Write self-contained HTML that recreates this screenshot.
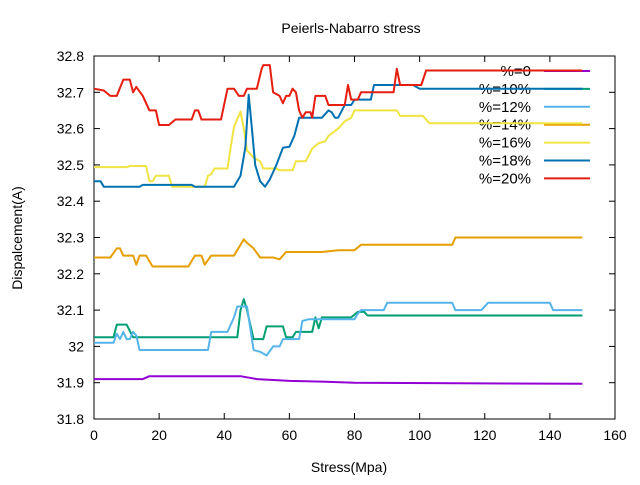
<!DOCTYPE html>
<html><head><meta charset="utf-8"><style>
body{margin:0;background:#fff;}
svg text{font-family:"Liberation Sans",sans-serif;fill:#000;}
</style></head><body>
<svg id="chart" width="640" height="480">
<rect width="640" height="480" fill="#fff"/>
<text x="351" y="33" font-size="14" text-anchor="middle">Peierls-Nabarro stress</text>
<text x="349" y="472" font-size="14" text-anchor="middle">Stress(Mpa)</text>
<text x="22" y="238" font-size="14" text-anchor="middle" transform="rotate(-90 22 238)">Dispalcement(A)</text>
<g id="axes"></g>
<g id="series"></g>
<g id="legend"></g>
</svg>
<script>
const xTicks=[0,20,40,60,80,100,120,140,160];
const yTicks=[31.8,31.9,32,32.1,32.2,32.3,32.4,32.5,32.6,32.7,32.8];
const yTickLabels=["31.8","31.9","32","32.1","32.2","32.3","32.4","32.5","32.6","32.7","32.8"];
const seriesNames=["%=0","%=10%","%=12%","%=14%","%=16%","%=18%","%=20%"];
const seriesColors=["#9400d3","#009e73","#56b4e9","#e69f00","#f0e442","#0072b2","#e51e10"];
const s0=[[0,31.91],[15,31.91],[17,31.918],[45,31.918],[50,31.91],[60,31.905],[70,31.903],[80,31.9],[150,31.897]];
const s10=[[0,32.025],[6,32.025],[7,32.06],[10,32.06],[12,32.025],[44,32.025],[45,32.1],[46,32.13],[47,32.1],[48,32.06],[49,32.02],[52,32.02],[53,32.055],[58,32.055],[59,32.025],[61,32.025],[62,32.04],[67,32.04],[68,32.08],[69,32.05],[70,32.08],[79,32.08],[81,32.095],[83,32.095],[84,32.085],[150,32.085]];
const s12=[[0,32.01],[6,32.01],[7,32.035],[8,32.02],[9,32.04],[10,32.02],[11,32.02],[12,32.04],[13,32.03],[14,31.99],[35,31.99],[36,32.04],[41,32.04],[43,32.08],[44,32.11],[47,32.11],[48,32.05],[49,31.99],[51,31.985],[53,31.975],[55,32.0],[57,32.0],[58,32.02],[63,32.02],[64,32.07],[66,32.075],[80,32.075],[81,32.09],[82,32.1],[89,32.1],[90,32.12],[110,32.12],[111,32.1],[119,32.1],[121,32.12],[140,32.12],[141,32.1],[150,32.1]];
const s14=[[0,32.245],[5,32.245],[7,32.27],[8,32.27],[9,32.25],[12,32.25],[13,32.225],[14,32.25],[16,32.25],[18,32.22],[29,32.22],[31,32.25],[33,32.25],[34,32.225],[36,32.25],[43,32.25],[46,32.295],[47,32.285],[49,32.27],[51,32.245],[55,32.245],[57,32.24],[59,32.26],[70,32.26],[75,32.265],[80,32.265],[82,32.28],[110,32.28],[111,32.3],[150,32.3]];
const s16=[[0,32.494],[10,32.494],[11,32.497],[16,32.497],[17,32.455],[18,32.455],[19,32.47],[23,32.47],[24,32.44],[34,32.44],[35,32.47],[36,32.475],[37,32.49],[41,32.49],[42,32.55],[43,32.605],[45,32.647],[46,32.6],[47,32.54],[49,32.52],[51,32.51],[52,32.49],[56,32.49],[57,32.485],[61,32.485],[62,32.51],[65,32.51],[67,32.545],[69,32.56],[71,32.565],[72,32.58],[75,32.6],[77,32.62],[79,32.63],[80,32.65],[93,32.65],[94,32.635],[101,32.635],[103,32.615],[150,32.615]];
const s18=[[0,32.455],[2,32.455],[3,32.44],[14,32.44],[15,32.445],[30,32.445],[31,32.44],[43,32.44],[45,32.47],[46.5,32.55],[47.5,32.693],[48.5,32.6],[49.5,32.5],[51,32.455],[52.5,32.44],[54,32.46],[56,32.5],[58,32.547],[60,32.55],[61.5,32.58],[63,32.63],[70,32.63],[72,32.65],[73,32.645],[74,32.63],[75,32.63],[77,32.665],[79,32.665],[80,32.68],[85,32.68],[86,32.72],[98,32.72],[100,32.71],[150,32.71]];
const s20=[[0,32.71],[3,32.705],[5,32.69],[7,32.69],[9,32.735],[11,32.735],[12,32.7],[13,32.715],[15,32.69],[17,32.65],[19,32.65],[20,32.61],[23,32.61],[25,32.625],[30,32.625],[31,32.65],[32,32.65],[33,32.625],[39,32.625],[41,32.71],[43,32.71],[44.5,32.69],[46,32.69],[47,32.71],[50,32.71],[51.5,32.765],[52,32.775],[54,32.775],[55,32.7],[57,32.69],[58,32.67],[59,32.69],[60,32.69],[61,32.71],[62,32.7],[63,32.65],[64,32.63],[65,32.645],[66.5,32.645],[67,32.63],[68,32.69],[71,32.69],[72,32.665],[77,32.665],[78,32.72],[79,32.68],[81,32.68],[82,32.7],[92,32.7],[93,32.765],[94,32.72],[100.5,32.72],[102,32.76],[150,32.76]];
const allSeries=[s0,s10,s12,s14,s16,s18,s20];

const X0=94,X1=615,Y0=419,Y1=56,xmin=0,xmax=160,ymin=31.8,ymax=32.8;
const sx=v=>X0+(v-xmin)/(xmax-xmin)*(X1-X0);
const sy=v=>Y0-(v-ymin)/(ymax-ymin)*(Y0-Y1);
const NS="http://www.w3.org/2000/svg";
function mk(tag,attrs,parent){const e=document.createElementNS(NS,tag);for(const k in attrs)e.setAttribute(k,attrs[k]);parent.appendChild(e);return e;}
const axes=document.getElementById('axes');
const frame=mk('rect',{x:X0,y:Y1,width:X1-X0,height:Y0-Y1,fill:'none',stroke:'#000','stroke-width':1},axes);


xTicks.forEach(t=>{
 const x=sx(t);
 const a=mk('line',{x1:x,x2:x,y1:Y0,y2:Y0-6,stroke:'#000'},axes);
 
 
 const b=mk('line',{x1:x,x2:x,y1:Y1,y2:Y1+6,stroke:'#000'},axes);
 
 
 const l=mk('text',{x:x,y:Y0+21,'font-size':14,'text-anchor':'middle'},axes);
 l.textContent=String(t);
 
 
});
yTicks.forEach((t,i)=>{
 const y=sy(t);
 const a=mk('line',{x1:X0,x2:X0+6,y1:y,y2:y,stroke:'#000'},axes);
 
 
 const b=mk('line',{x1:X1,x2:X1-6,y1:y,y2:y,stroke:'#000'},axes);
 
 
 const l=mk('text',{x:X0-10,y:y+5,'font-size':14,'text-anchor':'end'},axes);
 l.textContent=yTickLabels[i];
 
 
});
const sg=document.getElementById('series');
allSeries.forEach((d,i)=>{
 const p=mk('polyline',{points:d.map(q=>sx(q[0]).toFixed(1)+','+sy(q[1]).toFixed(1)).join(' '),fill:'none',stroke:seriesColors[i],'stroke-width':2,'stroke-linejoin':'round'},sg);
 
 
});
const lg=document.getElementById('legend');
seriesNames.forEach((n,i)=>{
 const y=71+i*17.9;
 const t=mk('text',{x:531,y:y+5,'font-size':15,'text-anchor':'end'},lg);
 t.textContent=n;
 
 
 const l=mk('line',{x1:544,x2:590,y1:y,y2:y,stroke:seriesColors[i],'stroke-width':2},lg);
 
 
});
// series 20 and 18 drawn over legend area like gnuplot
sg.parentNode.appendChild(sg);
</script>
</body></html>
